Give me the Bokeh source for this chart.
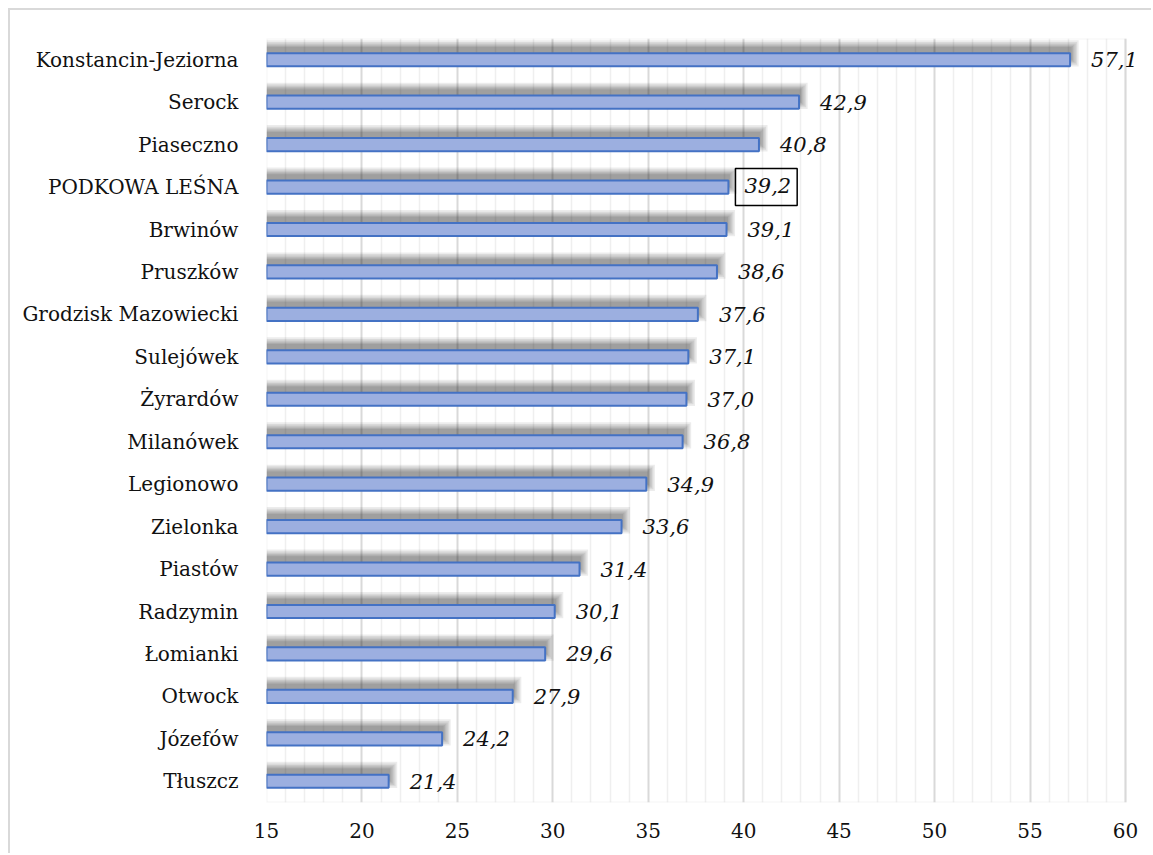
from bokeh.plotting import figure
from bokeh.models import (ColumnDataSource, FactorRange, FixedTicker, LabelSet,
                          BoxAnnotation)
from bokeh.transform import dodge
from bokeh.core.properties import value
from bokeh.embed import file_html
from bokeh.resources import INLINE

cities = ["Konstancin-Jeziorna", "Serock", "Piaseczno", "PODKOWA LEŚNA", "Brwinów",
          "Pruszków", "Grodzisk Mazowiecki", "Sulejówek", "Żyrardów", "Milanówek",
          "Legionowo", "Zielonka", "Piastów", "Radzymin", "Łomianki", "Otwock",
          "Józefów", "Tłuszcz"]
values = [57.1, 42.9, 40.8, 39.2, 39.1, 38.6, 37.6, 37.1, 37.0, 36.8,
          34.9, 33.6, 31.4, 30.1, 29.6, 27.9, 24.2, 21.4]
highlight = "PODKOWA LEŚNA"
x_start, x_end = 15, 60
major_ticks = list(range(x_start, x_end + 1, 5))
minor_ticks = [t for t in range(x_start, x_end + 1) if t % 5 != 0]

labels = [f"{v:.1f}".replace(".", ",") for v in values]
src = ColumnDataSource(dict(city=cities, val=values, lab=labels))
hi = [i for i, c in enumerate(cities) if c == highlight]
src_n = ColumnDataSource(dict(city=[c for i, c in enumerate(cities) if i not in hi],
                              val=[v for i, v in enumerate(values) if i not in hi],
                              lab=[l for i, l in enumerate(labels) if i not in hi]))
src_h = ColumnDataSource(dict(city=[cities[i] for i in hi],
                              val=[values[i] for i in hi],
                              lab=[labels[i] for i in hi]))

FONT = "DejaVu Serif"

# frame extends a little past the last tick so that the outer value label is not clipped
p = figure(width=1143, height=845, output_backend="svg", toolbar_location=None,
           y_range=FactorRange(*reversed(cities)), x_range=(x_start, 61.47),
           min_border_left=256, min_border_right=0, min_border_top=28,
           min_border_bottom=53, background_fill_color="white",
           border_fill_color="white")
p.styles = {"border-top": "2px solid #d9d9d9", "border-left": "2px solid #d9d9d9",
            "margin-left": "8px", "margin-top": "8px"}
p.outline_line_color = None

# grid
p.xaxis.ticker = FixedTicker(ticks=major_ticks, minor_ticks=minor_ticks)
p.xgrid.grid_line_color = "#d9d9d9"
p.xgrid.grid_line_width = 2
p.xgrid.minor_grid_line_color = "#efefef"
p.xgrid.minor_grid_line_width = 1.5
p.ygrid.grid_line_color = None

# plot-area border (from 15 to 60)
p.add_layout(BoxAnnotation(left=x_start, right=x_end, fill_alpha=0,
                           line_color="#d9d9d9", line_width=2, level="underlay"))

# soft shadow layers above bars
for h, ext in [(0.62, 0.45), (0.54, 0.37), (0.47, 0.30), (0.41, 0.22), (0.35, 0.15), (0.30, 0.08)]:
    p.hbar(y=dodge("city", 0.15, range=p.y_range), left=x_start,
           right=dodge("val", ext), height=h,
           source=src, fill_color="black", fill_alpha=0.075, line_color=None)

p.hbar(y="city", left=x_start, right="val", height=0.31, source=src,
       fill_color="#9cafe0", line_color="#4472c4", line_width=2)

p.add_layout(LabelSet(source=src_n, x="val", y="city", text="lab", x_offset=21,
                      text_font=value(FONT), text_font_style="italic",
                      text_font_size=value("21px"),
                      text_baseline="middle", text_align="left", text_color="#111111"))
p.text(x="val", y="city", text="lab", source=src_h, x_offset=7,
       text_font=value(FONT), text_font_style="italic", text_font_size=value("21px"),
       text_baseline="middle", text_align="left", text_color="#111111",
       border_line_color="black", border_line_width=1.5, padding=[9, 6, 9, 13])

for ax in (p.xaxis[0], p.yaxis[0]):
    ax.axis_line_color = None
    ax.major_tick_line_color = None
    ax.minor_tick_line_color = None
    ax.major_label_text_font = FONT
    ax.major_label_text_font_size = "20px"
    ax.major_label_text_color = "#111111"
p.yaxis.major_label_standoff = 22
p.xaxis.major_label_standoff = 14

open("out.html", "w").write(file_html(p, INLINE))
